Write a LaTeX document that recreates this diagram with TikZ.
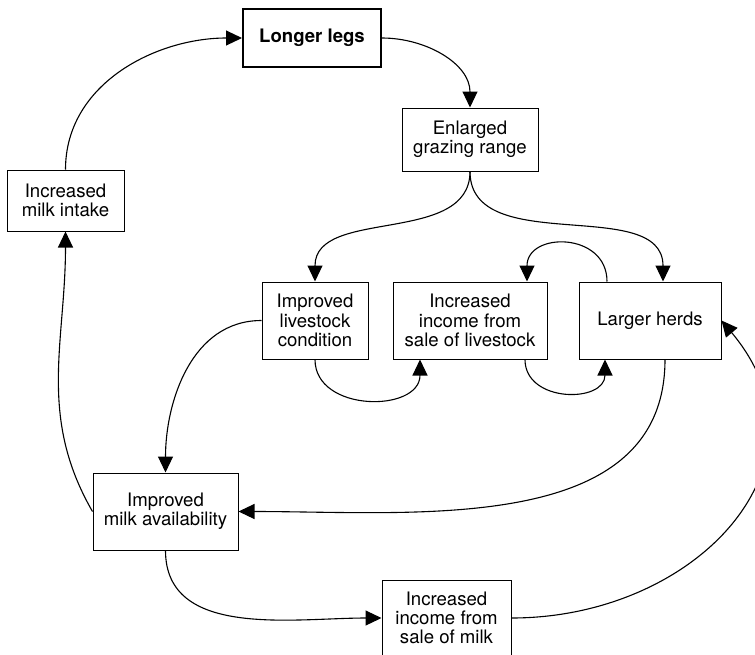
\documentclass[tikz,border=0pt]{standalone}
\usepackage{fontspec}
\setmainfont{TeX Gyre Heros}
\usetikzlibrary{arrows.meta,positioning}

\begin{document}
\begin{tikzpicture}[->, >={Triangle[length=8pt,width=7.5pt]}, line width=0.55pt]
\tikzstyle{box}=[draw=black,rectangle,align=center,inner sep=0pt,line width=0.5pt,font=\fontsize{9.3}{9.6}\selectfont]
\useasboundingbox (0,0) rectangle (377.5pt,-327pt);
\node[box,line width=1pt,minimum width=69pt,minimum height=29pt,font=\fontsize{9.3}{9.6}\selectfont\bfseries]
    (legs) at (156pt,-19pt) {Longer legs};
\node[box,minimum width=68pt,minimum height=31.5pt]
    (graze)[below of=legs, node distance=50.75pt, xshift=79pt] {Enlarged\\grazing range};
\node[box,minimum width=58.5pt,minimum height=30.5pt]
    (intake)[below of=legs, node distance=81.25pt, xshift=-123.25pt] {Increased\\milk intake};
\node[box,minimum width=77pt,minimum height=38.5pt]
    (salelive)[below of=graze, node distance=90.5pt] {Increased\\income from\\sale of livestock};
\node[box,minimum width=53pt,minimum height=38.5pt]
    (cond)[left of=salelive, node distance=77.5pt] {Improved\\livestock\\condition};
\node[box,minimum width=71pt,minimum height=38.5pt]
    (herds)[right of=salelive, node distance=90pt] {Larger herds};
\node[box,minimum width=72.5pt,minimum height=38.5pt]
    (avail)[below of=cond, node distance=95.5pt, xshift=-74.75pt] {Improved\\milk availability};
\node[box,minimum width=64.5pt,minimum height=38pt]
    (salemilk)[below of=salelive, node distance=148.75pt, xshift=-11.75pt] {Increased\\income from\\sale of milk};
\path
(intake)   edge[out=90,in=180]     (legs)
(legs)     edge[out=0,in=90]       (graze)
(graze.south) edge[out=-90,in=90]  (cond.north)
              edge[out=-90,in=90]  ([xshift=6.5pt]herds.north)
([xshift=-21.5pt]herds.north) edge[out=90,in=90,looseness=1.6] ([xshift=28.5pt]salelive.north)
(cond.south) edge[out=-90,in=-90,looseness=1.3] ([xshift=-25pt]salelive.south)
([xshift=27.5pt]salelive.south) edge[out=-90,in=-90,looseness=1.4] ([xshift=-22.5pt]herds.south)
([xshift=7.5pt]herds.south) edge[out=-90,in=0]  (avail.east)
(cond.west)  edge[out=180,in=90]   (avail.north)
(avail.west) edge[out=120,in=-90]  (intake.south)
(avail.south) edge[out=-90,in=180] (salemilk.west)
(salemilk.east) edge[out=0,in=-50,looseness=1.3] (herds.east);
\end{tikzpicture}
\end{document}
